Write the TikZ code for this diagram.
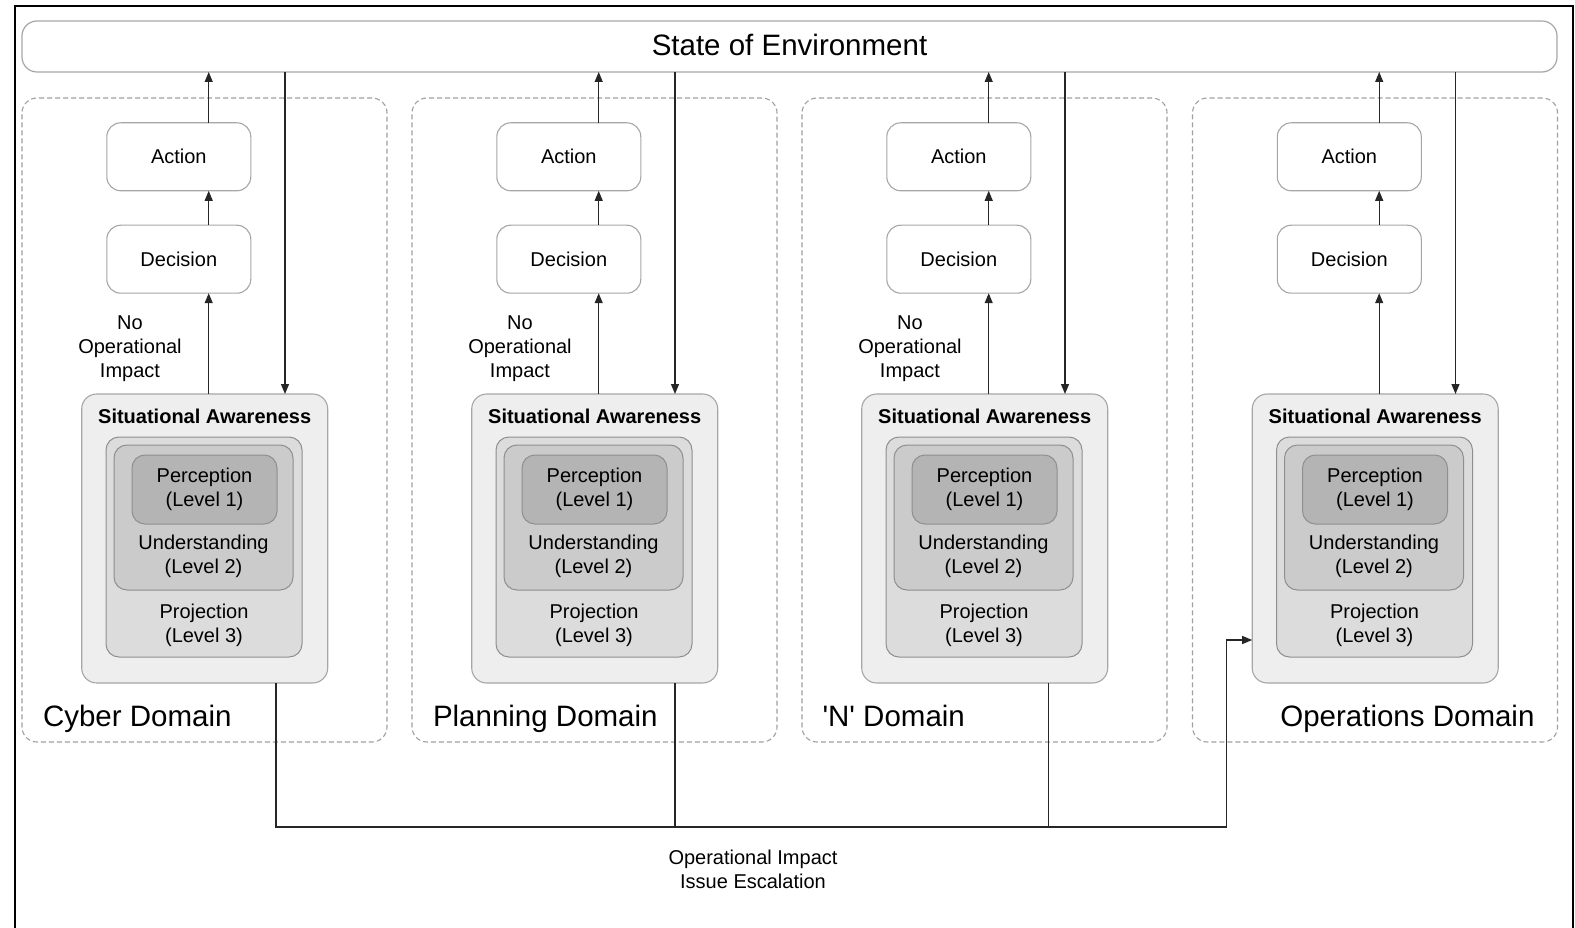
\documentclass[tikz,border=0pt]{standalone}
\usepackage{fontspec}
\setmainfont{Liberation Sans}
\usetikzlibrary{arrows.meta}
\definecolor{boxline}{HTML}{A6A6A6}
\definecolor{innerline}{HTML}{8F8F8F}
\definecolor{dashline}{HTML}{A0A0A0}
\definecolor{safill}{HTML}{EEEEEE}
\definecolor{projfill}{HTML}{DCDCDC}
\definecolor{undfill}{HTML}{CBCBCB}
\definecolor{percfill}{HTML}{B4B4B4}
\definecolor{wire}{HTML}{262626}
\begin{document}
\begin{tikzpicture}[x=1pt,y=-1pt,
  every node/.style={inner sep=0pt, outer sep=0pt},
  txt/.style={font=\fontsize{20}{24}\selectfont, align=center},
  bigtxt/.style={font=\fontsize{29.5}{34}\selectfont},
  statebox/.style={draw=boxline, line width=1.2pt, fill=white, rounded corners=15pt,
    minimum width=1535pt, minimum height=51pt, bigtxt, text height=21.6pt, text depth=3pt},
  domainbox/.style={draw=dashline, line width=1.1pt, dash pattern=on 5pt off 3pt,
    rounded corners=15pt, minimum width=365pt, minimum height=644pt},
  stepbox/.style={draw=boxline, line width=1.1pt, fill=white, rounded corners=14pt,
    minimum width=144pt, minimum height=68pt, txt},
  sabox/.style={draw=boxline, line width=1.1pt, fill=safill, rounded corners=15pt,
    minimum width=246pt, minimum height=289pt},
  projbox/.style={draw=innerline, line width=1pt, fill=projfill, rounded corners=13pt,
    minimum width=196pt, minimum height=220pt},
  undbox/.style={draw=innerline, line width=1pt, fill=undfill, rounded corners=13pt,
    minimum width=179pt, minimum height=145pt},
  percbox/.style={draw=innerline, line width=1pt, fill=percfill, rounded corners=13pt,
    minimum width=145pt, minimum height=69pt, txt},
  conn/.style={draw=wire, line width=1.2pt},
  arr/.style={conn, -{Triangle[length=10pt,width=8pt]}}
]
\useasboundingbox (0,0) rectangle (1575,928);

% page frame
\draw[line width=2.5pt] (15,928) -- (15,6) -- (1573,6) -- (1573,928);

% shared environment state
\node[statebox] (state) at (789.5,46.5) {State of Environment};

% one column per domain
\foreach \i/\dx in {1/0, 2/390, 3/780, 4/1170.5}{
  \node[domainbox] (dom\i) at (204.5+\dx,420) {};
  \node[stepbox] (act\i) at (178.8+\dx,156.8) {Action};
  \node[stepbox] (dec\i) at (178.8+\dx,259.2) {Decision};
  \node[sabox] (sa\i) at (204.7+\dx,538.5) {};
  \node[txt, font=\fontsize{20}{24}\selectfont\bfseries] (sat\i) at (204.7+\dx,416) {Situational Awareness};
  \node[projbox] (proj\i) at (204+\dx,547) {};
  \node[undbox] (und\i) at (203.5+\dx,517.5) {};
  \node[percbox] (perc\i) at (204.5+\dx,489.5) {Perception\\(Level 1)};
  \node[txt] (undt\i) at (203.5+\dx,556.5) {Understanding\\(Level 2)};
  \node[txt] (projt\i) at (204+\dx,625) {Projection\\(Level 3)};
  \coordinate (up\i) at (208.7+\dx,0);
  \coordinate (dn\i) at (285+\dx,0);
  \draw[arr] (sa\i.north -| up\i) -- (dec\i.south -| up\i);
  \draw[arr] (dec\i.north -| up\i) -- (act\i.south -| up\i);
  \draw[arr] (act\i.north -| up\i) -- (state.south -| up\i);
  \draw[arr] (state.south -| dn\i) -- (sa\i.north -| dn\i);
}

% direct paths without operational impact
\foreach \i/\dx in {1/0, 2/390, 3/780}{
  \node[txt] (noimp\i) at (130+\dx,348.5) {No\\Operational\\Impact};
}

% domain names
\node[bigtxt, anchor=base west] (cyber) at (43,726) {Cyber Domain};
\node[bigtxt, anchor=base west] (plan) at (433,726) {Planning Domain};
\node[bigtxt, anchor=base west] (ndom) at (822.5,726) {\textquotesingle N\textquotesingle\ Domain};
\node[bigtxt, anchor=base east] (ops) at (1534.5,726) {Operations Domain};

% escalation of issues with operational impact
\coordinate (j1) at (276,827);
\coordinate (j2) at (675,827);
\coordinate (j3) at (1048.7,827);
\coordinate (j4) at (1226.5,827);
\coordinate (esc) at (1226.5,640);
\draw[conn] (sa2.south -| j2) -- (j2);
\draw[conn] (sa3.south -| j3) -- (j3);
\draw[arr] (sa1.south -| j1) -- (j1) -- (j4) -- (esc) -- (esc -| sa4.west);
\node[txt] (esclabel) at (753,869.5) {Operational Impact\\Issue Escalation};
\end{tikzpicture}
\end{document}
